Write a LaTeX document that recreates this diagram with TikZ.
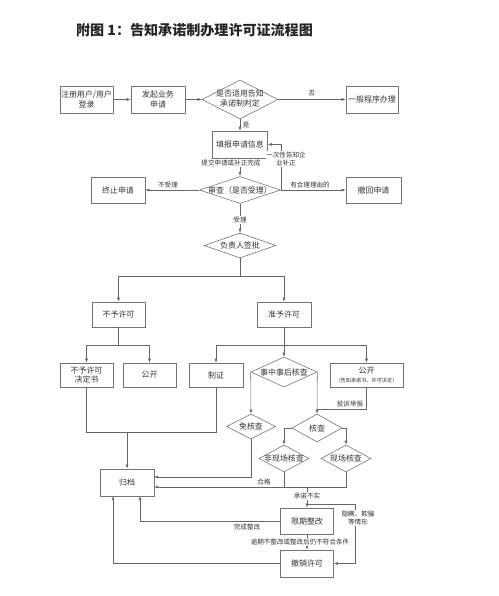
\documentclass[tikz,border=0pt]{standalone}
\usepackage{fontspec}
\setmainfont{Noto Sans CJK SC}
\usetikzlibrary{shapes.geometric, arrows.meta}

\begin{document}
\begin{tikzpicture}[x=0.3mm, y=-0.3mm, font=\fontsize{6.8}{8}\selectfont,
  line/.style={draw=black!60, line width=0.45pt},
  arr/.style={line, -{Latex[length=1.2mm, width=0.9mm]}},
  box/.style={draw=black!55, line width=0.5pt, text=black!80, align=center, inner sep=0pt,
    minimum width=16.2mm, minimum height=7.8mm},
  chk/.style={diamond, draw=black!55, line width=0.5pt, text=black!80, inner sep=0pt},
  lbl/.style={font=\fontsize{5.6}{6.6}\selectfont, text=black!80, inner sep=0.6pt},
  lblw/.style={lbl, fill=white}]
  \useasboundingbox (0,0) rectangle (499,596);

  % Title
  \node[font=\bfseries\fontsize{12}{14}\selectfont, text=black!85, anchor=west] (title) at (72,30)
    {附图 1：告知承诺制办理许可证流程图};

  % Top row
  \node[box, minimum width=15.9mm, minimum height=8.1mm] (reg) at (86.5,99.5) {注册用户/用户\\登录};
  \node[box, minimum height=8.1mm] (start) at (158,99.5) {发起业务\\申请};
  \node[chk, minimum width=22.8mm, minimum height=11.7mm] (judge) at (240,99.5)
    {\makebox[0pt]{\begin{tabular}{@{}c@{}}是否适用告知\\承诺制判定\end{tabular}}};
  \node[box, minimum width=15.6mm, minimum height=8.1mm] (general) at (372,99.5) {一般程序办理};

  % Application and review
  \node[box, minimum width=16.5mm, minimum height=8.1mm] (fill) at (240,144.5) {填报申请信息};
  \node[chk, minimum width=24.3mm, minimum height=8.1mm] (review) at (240,190)
    {\makebox[0pt]{审查（是否受理）}};
  \node[box] (stop) at (118,190) {终止申请};
  \node[box, minimum width=16.5mm] (withdraw) at (373.5,190) {撤回申请};
  \node[chk, minimum width=21.6mm, minimum height=7.5mm] (sign) at (240,245.5)
    {\makebox[0pt]{负责人签批}};

  % Decision
  \node[box, minimum width=15.9mm, minimum height=7.5mm] (deny) at (118.5,314.5) {不予许可};
  \node[box, minimum height=7.5mm] (grant) at (284,314.5) {准予许可};

  % Results
  \node[box, minimum width=15.9mm, minimum height=7.2mm] (denydoc) at (86.5,375) {不予许可\\决定书};
  \node[box, minimum width=15.9mm, minimum height=7.2mm] (publeft) at (149.5,375) {公开};
  \node[box, minimum height=7.2mm] (cert) at (216,375) {制证};
  \node[chk, minimum width=19.8mm, minimum height=9mm] (supv) at (284,372)
    {\makebox[0pt]{事中事后核查}};
  \node[box, minimum width=21.9mm, minimum height=7.2mm] (pubright) at (366.5,375)
    {公开\\[-1pt]{\fontsize{4.4}{5}\selectfont（告知承诺书、许可决定）}};

  % Inspection
  \node[chk, minimum width=14.7mm, minimum height=7.5mm] (exempt) at (251,426.5)
    {\makebox[0pt]{免核查}};
  \node[chk, minimum width=15mm, minimum height=8.4mm] (check) at (317,428)
    {\makebox[0pt]{核查}};
  \node[chk, minimum width=15mm, minimum height=8.1mm] (offsite) at (284,458.5)
    {\makebox[0pt]{非现场核查}};
  \node[chk, minimum width=15mm, minimum height=8.1mm] (onsite) at (346,458.5)
    {\makebox[0pt]{现场核查}};

  % Bottom
  \node[box, minimum height=8.1mm] (archive) at (127,482.5) {归档};
  \node[box, minimum width=15.9mm] (rectify) at (307,521) {限期整改};
  \node[box, minimum width=15.9mm, minimum height=8.1mm] (revoke) at (307,563.5) {撤销许可};

  % Junction points
  \coordinate (sb) at (240,276);
  \coordinate (db) at (118.5,345);
  \coordinate (gb) at (284,345);
  \coordinate (ab) at (127,432);
  \coordinate (rpt) at (317,409);
  \coordinate (a1) at (154,477);
  \coordinate (a2) at (154,487);
  \coordinate (a3) at (140,496);
  \coordinate (a4) at (113,496);
  \coordinate (nf) at (307,487);
  \coordinate (br) at (307,504);
  \coordinate (lp) at (355,504);

  % Top connectors
  \draw[arr] (reg) -- (start);
  \draw[arr] (start) -- (judge);
  \draw[arr] (judge) -- (general);
  \node[lbl, anchor=south] at (312,97) {否};
  \draw[arr] (judge) -- (fill);
  \node[lbl, anchor=west] at (242,125) {是};
  \draw[arr] (fill) -- (review);
  \node[lblw] at (231,163) {提交申请或补正完成};
  \draw[arr] (review.east) |- (fill.east);
  \node[lblw, align=center] at (286,159) {一次性告知企\\业补正};
  \draw[arr] (review) -- (withdraw);
  \node[lbl, anchor=south] at (310,189) {有合理理由的};
  \draw[arr] (review) -- (stop);
  \node[lbl, anchor=south] at (168,189) {不受理};
  \draw[arr] (review) -- (sign);
  \node[lblw] at (240,220) {受理};

  % Branches
  \draw[arr] (sign.south) -- (sb) -| (deny.north);
  \draw[arr] (sb) -| (grant.north);
  \draw[arr] (deny.south) -- (db) -| (denydoc.north);
  \draw[arr] (db) -| (publeft.north);
  \draw[arr] (grant.south) -- (gb) -| (cert.north);
  \draw[arr] (gb) -- (supv.north);
  \draw[arr] (gb) -| (pubright.north);

  % To archive
  \draw[line] (denydoc.south) |- (ab);
  \draw[line] (cert.south) |- (ab);
  \draw[arr] (ab) -- (archive.north);

  % Inspection paths
  \draw[arr] (supv.west) -- (exempt.north);
  \draw[arr] (supv.east) -- (check.north);
  \draw[line] (pubright.south) |- (rpt);
  \node[lbl, anchor=south] at (350,408) {投诉举报};
  \draw[arr] (check.west) -| (offsite.north);
  \draw[arr] (check.east) -| (onsite.north);
  \draw[arr] (exempt.south) |- (a1);
  \draw[line] (offsite.south) -- (offsite.south |- a2);
  \draw[arr] (onsite.south) |- (a2);
  \node[lbl, anchor=south] at (264,486) {合格};

  % Rectification
  \draw[arr] (nf) -- (rectify.north);
  \node[lblw] at (307,496) {承诺不实};
  \draw[arr] (br) -- (lp) |- (revoke.east);
  \node[lblw, align=center] at (358,518) {隐瞒、欺骗\\等情形};
  \draw[arr] (rectify) -- (revoke);
  \node[lblw] at (300,542) {逾期不整改或整改后仍不符合条件};
  \draw[arr] (rectify.west) -| (a3);
  \node[lbl, anchor=north] at (247,523) {完成整改};
  \draw[arr] (revoke.west) -| (a4);
\end{tikzpicture}
\end{document}
